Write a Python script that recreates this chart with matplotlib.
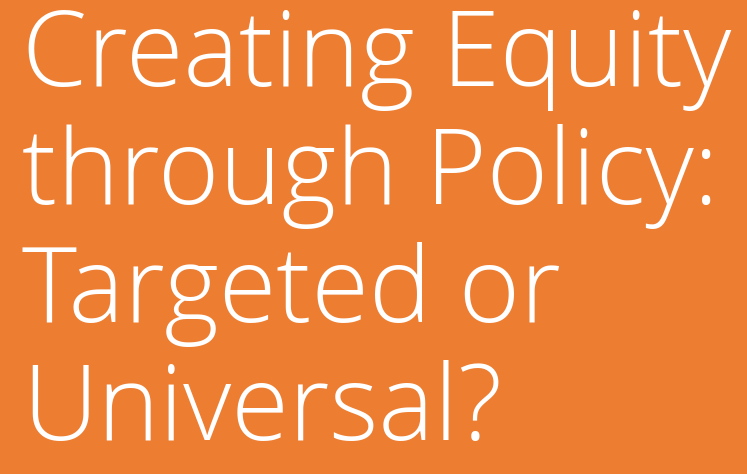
import matplotlib
matplotlib.use("Agg")
import matplotlib.pyplot as plt

lines = ["Creating Equity", "through Policy:", "Targeted or", "Universal?"]
baselines_px = [86, 204, 322, 440]

W, H = 747, 474
fig = plt.figure(figsize=(W/100, H/100), dpi=100)
fig.patch.set_facecolor("#ED7D31")
for t, b in zip(lines, baselines_px):
    fig.text(22/W, 1 - b/H, t, color="white", fontsize=75.5, family="Open Sans",
             fontweight="light", va="baseline", ha="left")
fig.savefig("out.png", dpi=100, facecolor=fig.get_facecolor())
